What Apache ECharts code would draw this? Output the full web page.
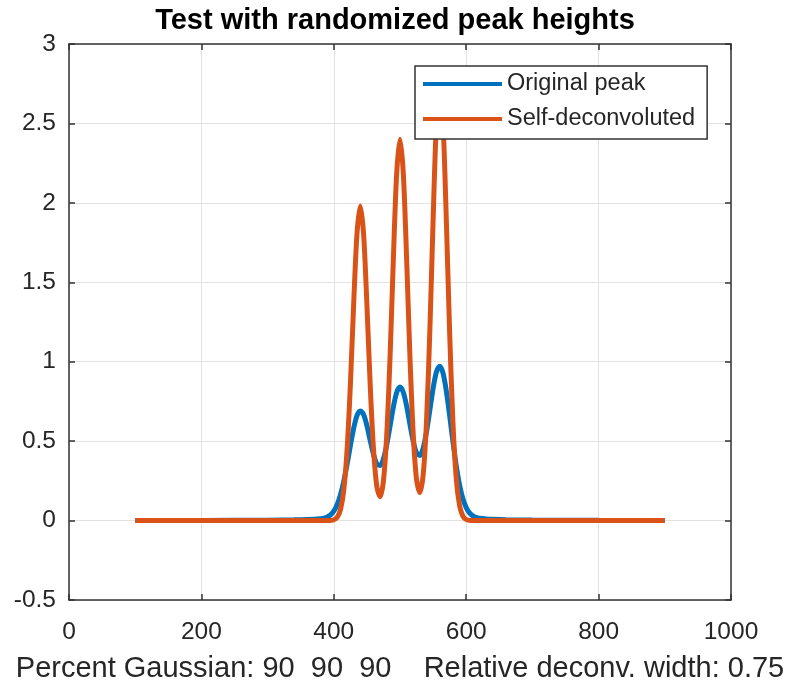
<!DOCTYPE html>
<html>
<head>
<meta charset="utf-8">
<script src="https://cdn.jsdelivr.net/npm/echarts@6/dist/echarts.min.js"></script>
<style>
html,body{margin:0;padding:0;background:#fff;}
#chart{width:790px;height:688px;}
</style>
</head>
<body>
<div id="chart"></div>
<script>
// ---- data ----
const xValues = [100, 200, 300, 340, 360,
  380, 385, 390, 395, 400, 405, 410, 415, 420, 425, 430, 435, 440, 445, 450, 455, 460, 465, 470, 475,
  480, 485, 490, 495, 500, 505, 510, 515, 520, 525, 530, 535, 540, 545, 550, 555, 560, 565, 570, 575,
  580, 585, 590, 595, 600, 605, 610, 615, 620,
  630, 640, 660, 700, 800, 900];
const originalPeak = [0.0006, 0.0010, 0.0027, 0.0045, 0.0066,
  0.0118, 0.0155, 0.0226, 0.0358, 0.0596, 0.0995, 0.1607, 0.2461, 0.3526, 0.4701, 0.5804, 0.6612, 0.6900, 0.6679, 0.5971, 0.5038, 0.4157, 0.3578, 0.3467, 0.3889,
  0.4777, 0.5955, 0.7155, 0.8057, 0.8402, 0.8078, 0.7208, 0.6066, 0.4986, 0.4262, 0.4093, 0.4554, 0.5571, 0.6931, 0.8315, 0.9349, 0.9720, 0.9284, 0.8151, 0.6599,
  0.4945, 0.3444, 0.2241, 0.1379, 0.0818, 0.0484, 0.0299, 0.0200, 0.0149,
  0.0104, 0.0080, 0.0055, 0.0033, 0.0015, 0.0010];
const selfDeconvoluted = [0, 0, 0, 0, 0,
  0, 0, 0.0002, 0.0010, 0.0049, 0.0200, 0.0677, 0.1899, 0.4417, 0.8516, 1.3609, 1.8028, 1.9800, 1.8028, 1.3611, 0.8528, 0.4477, 0.2141, 0.1498, 0.2502,
  0.5403, 1.0332, 1.6495, 2.1852, 2.4000, 2.1852, 1.6497, 1.0336, 0.5422, 0.2580, 0.1762, 0.2879, 0.6195, 1.1840, 1.8901, 2.5039, 2.7500, 2.5039, 1.8901, 1.1828,
  0.6135, 0.2637, 0.0941, 0.0278, 0.0068, 0.0014, 0.0002, 0, 0,
  0, 0, 0, 0, 0, 0];
const seriesNames = ['Original peak', 'Self-deconvoluted'];
const titleText = 'Test with randomized peak heights';
const xAxisLabel = 'Percent Gaussian: 90  90  90    Relative deconv. width: 0.75';

// ---- chart ----
const font = "'Liberation Sans', Arial, Helvetica, sans-serif";
const axisColor = '#333333';
const textColor = '#262626';
const pairs = ys => xValues.map((x, i) => [x, ys[i]]);
const plainNum = v => String(v);

const chart = echarts.init(document.getElementById('chart'), null, {renderer: 'canvas'});
const baseX = {type: 'value', min: 0, max: 1000, interval: 200};
const baseY = {type: 'value', min: -0.5, max: 3, interval: 0.5};
chart.setOption({
  animation: false,
  backgroundColor: '#ffffff',
  title: {
    text: titleText, left: 'center', top: 1,
    textStyle: {fontFamily: font, fontSize: 29, fontWeight: 'bold', color: '#000'}
  },
  legend: {
    orient: 'vertical', left: 415, top: 66,
    padding: [6, 12, 8, 8], itemGap: 11,
    itemWidth: 79, itemHeight: 4, icon: 'rect',
    backgroundColor: '#ffffff', borderColor: axisColor, borderWidth: 1.5,
    textStyle: {fontFamily: font, fontSize: 23.5, color: textColor},
    data: seriesNames
  },
  grid: {left: 69, right: 59, top: 44, bottom: 88, containLabel: false},
  xAxis: [
    Object.assign({}, baseX, {
      position: 'bottom',
      name: xAxisLabel, nameLocation: 'middle', nameGap: 54,
      nameTextStyle: {fontFamily: font, fontSize: 29, color: textColor},
      axisLine: {show: true, onZero: false, lineStyle: {color: axisColor, width: 1.5}},
      axisTick: {show: true, inside: true, length: 6, lineStyle: {color: axisColor, width: 1.5}},
      axisLabel: {margin: 20, fontFamily: font, fontSize: 24.5, color: textColor, formatter: plainNum},
      splitLine: {show: true, lineStyle: {color: '#e2e2e2', width: 1}}
    }),
    Object.assign({}, baseX, {
      position: 'top',
      axisLine: {show: true, onZero: false, lineStyle: {color: axisColor, width: 1.5}},
      axisTick: {show: true, inside: true, length: 6, lineStyle: {color: axisColor, width: 1.5}},
      axisLabel: {show: false},
      splitLine: {show: false}
    })
  ],
  yAxis: [
    Object.assign({}, baseY, {
      position: 'left',
      axisLine: {show: true, onZero: false, lineStyle: {color: axisColor, width: 1.5}},
      axisTick: {show: true, inside: true, length: 6, lineStyle: {color: axisColor, width: 1.5}},
      axisLabel: {margin: 13, fontFamily: font, fontSize: 24.5, color: textColor, formatter: plainNum},
      splitLine: {show: true, lineStyle: {color: '#e2e2e2', width: 1}}
    }),
    Object.assign({}, baseY, {
      position: 'right',
      axisLine: {show: true, onZero: false, lineStyle: {color: axisColor, width: 1.5}},
      axisTick: {show: true, inside: true, length: 6, lineStyle: {color: axisColor, width: 1.5}},
      axisLabel: {show: false},
      splitLine: {show: false}
    })
  ],
  series: [
    {
      name: seriesNames[0], type: 'line', xAxisIndex: 0, yAxisIndex: 0,
      data: pairs(originalPeak), showSymbol: false, symbol: 'none', smooth: 0.3,
      lineStyle: {color: '#0072BD', width: 5}, itemStyle: {color: '#0072BD'}, z: 2
    },
    {
      name: seriesNames[1], type: 'line', xAxisIndex: 0, yAxisIndex: 0,
      data: pairs(selfDeconvoluted), showSymbol: false, symbol: 'none', smooth: 0.3,
      lineStyle: {color: '#D95319', width: 5}, itemStyle: {color: '#D95319'}, z: 3
    }
  ]
});
</script>
</body>
</html>
